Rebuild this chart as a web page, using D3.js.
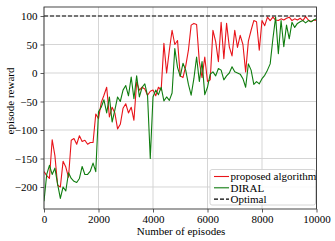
<!DOCTYPE html>
<html><head><meta charset="utf-8">
<script src="https://cdn.jsdelivr.net/npm/d3@7"></script>
<style>body{margin:0;background:#fff}svg{display:block}</style>
</head><body><svg id="c" width="335" height="241"></svg>
<script>
const episodes = [0,100,200,300,400,500,600,700,800,900,1000,1100,1200,1300,1400,1500,1600,1700,1800,1900,
2000,2100,2200,2300,2400,2500,2600,2700,2800,2900,3000,3100,3200,3300,3400,3500,3600,3700,3800,3900,
4000,4100,4200,4300,4400,4500,4600,4700,4800,4900,5000,5100,5200,5300,5400,5500,5600,5700,5800,5900,
6000,6100,6200,6300,6400,6500,6600,6700,6800,6900,7000,7100,7200,7300,7400,7500,7600,7700,7800,7900,
8000,8100,8200,8300,8400,8500,8600,8700,8800,8900,9000,9100,9200,9300,9400,9500,9600,9700,9800,9900,10000];
const proposed = [-173,-180,-185,-117,-145,-197,-200,-155,-165,-183,-118,-115,-125,-110,-120,-118,-125,-122,-122,-72,
-80,-52,-39,-25,-77,-60,-70,-98,-90,-62,-54,-70,-60,-83,-16,-30,-25,-28,-39,-32,
-30,-40,-25,-30,52,0,40,75,50,57,-5,-8,12,40,84,87,85,20,-8,28,
-15,-12,75,55,20,89,25,87,46,30,75,45,66,50,2,56,75,92,90,40,
92,83,98,92,98,93,92,95,93,96,98,92,95,93,96,92,99,93,90,93,92];
const diral = [-225,-178,-162,-178,-167,-195,-220,-200,-207,-175,-185,-190,-192,-185,-164,-178,-178,-172,-158,-173,
-68,-60,-47,-70,-42,-86,-65,-42,-50,-30,-22,-40,-7,-45,-5,-42,-25,-19,-40,-150,
-42,-30,-38,-25,-49,-42,-48,-35,43,10,-6,17,5,-20,-39,-10,28,-15,20,-38,
-25,-2,2,-5,8,5,-12,-5,0,11,2,0,-2,-10,-25,16,5,-20,-15,-19,
-10,-4,5,16,60,98,34,92,46,84,60,89,80,87,90,92,88,92,90,93,95];
const optimal = [100, 100];
const optimalEpisodes = [0, 10000];
const xTicks = [0,2000,4000,6000,8000,10000];
const yTicks = [-200,-150,-100,-50,0,50,100];
const seriesNames = ["proposed algorithm","DIRAL","Optimal"];

const svg = d3.select("#c");
const L=44, R=316.5, T=7, B=209;
const x = d3.scaleLinear().domain([0,10000]).range([L,R]);
const y = d3.scaleLinear().domain([-238.6,115.8]).range([B,T]);
const font = "'Liberation Serif','DejaVu Serif',serif";
const fmt = v => String(v).replace("-", "\u2212");

// grid
const g = svg.append("g");
g.selectAll(".gx").data(xTicks).join("line")
  .attr("x1",d=>x(d)).attr("x2",d=>x(d)).attr("y1",T).attr("y2",B)
  .attr("stroke","#d0d0d0").attr("stroke-width",0.9);
g.selectAll(".gy").data(yTicks).join("line")
  .attr("x1",L).attr("x2",R).attr("y1",d=>y(d)).attr("y2",d=>y(d))
  .attr("stroke","#d0d0d0").attr("stroke-width",0.9);

// axes
const xAxis = d3.axisBottom(x).tickValues(xTicks).tickSize(3.5).tickPadding(3).tickFormat(d=>String(d));
const yAxis = d3.axisLeft(y).tickValues(yTicks).tickSize(3.5).tickPadding(3).tickFormat(fmt);
const ax = svg.append("g").attr("transform",`translate(0,${B})`).call(xAxis);
const ay = svg.append("g").attr("transform",`translate(${L},0)`).call(yAxis);
[ax,ay].forEach(a=>{
  a.select(".domain").remove();
  a.selectAll("line").attr("stroke","#333").attr("stroke-width",0.8);
  a.selectAll("text").attr("font-family",font).attr("font-size",11).attr("fill","#000");
});

// lines
const clipId="clp";
svg.append("clipPath").attr("id",clipId).append("rect").attr("x",L).attr("y",T).attr("width",R-L).attr("height",B-T);
const line = d3.line().x(d=>x(d[0])).y(d=>y(d[1]));
const plot = svg.append("g").attr("clip-path",`url(#${clipId})`);
plot.append("path").datum(episodes.map((e,i)=>[e,proposed[i]])).attr("d",line)
  .attr("fill","none").attr("stroke","#e8141a").attr("stroke-width",1.1).attr("stroke-linejoin","round");
plot.append("path").datum(episodes.map((e,i)=>[e,diral[i]])).attr("d",line)
  .attr("fill","none").attr("stroke","#0f7d0f").attr("stroke-width",1.1).attr("stroke-linejoin","round");
plot.append("path").datum(optimalEpisodes.map((e,i)=>[e,optimal[i]])).attr("d",line)
  .attr("fill","none").attr("stroke","#000").attr("stroke-width",1.1).attr("stroke-dasharray","4,2");

// frame
svg.append("rect").attr("x",L).attr("y",T).attr("width",R-L).attr("height",B-T)
  .attr("fill","none").attr("stroke","#333").attr("stroke-width",0.9);

// axis titles
svg.append("text").attr("x",181).attr("y",235).attr("text-anchor","middle")
  .attr("font-family",font).attr("font-size",11).text("Number of episodes");
svg.append("text").attr("transform",`translate(14,101) rotate(-90)`).attr("text-anchor","middle")
  .attr("font-family",font).attr("font-size",11).text("episode reward");

// legend
const lg = svg.append("g");
lg.append("rect").attr("x",210).attr("y",169.5).attr("width",105.5).attr("height",35.5).attr("rx",2)
  .attr("fill","#fff").attr("fill-opacity",0.85).attr("stroke","#cccccc").attr("stroke-width",0.8);
const cols = ["#e8141a","#0f7d0f","#000"];
const dash = [null,null,"4,2"];
seriesNames.forEach((n,i)=>{
  const yy = 176.5 + i*11.3;
  lg.append("line").attr("x1",214).attr("x2",229).attr("y1",yy).attr("y2",yy)
    .attr("stroke",cols[i]).attr("stroke-width",1.1).attr("stroke-dasharray",dash[i]);
  lg.append("text").attr("x",230.5).attr("y",yy+3.8).attr("font-family",font).attr("font-size",11).text(n);
});
</script></body></html>
